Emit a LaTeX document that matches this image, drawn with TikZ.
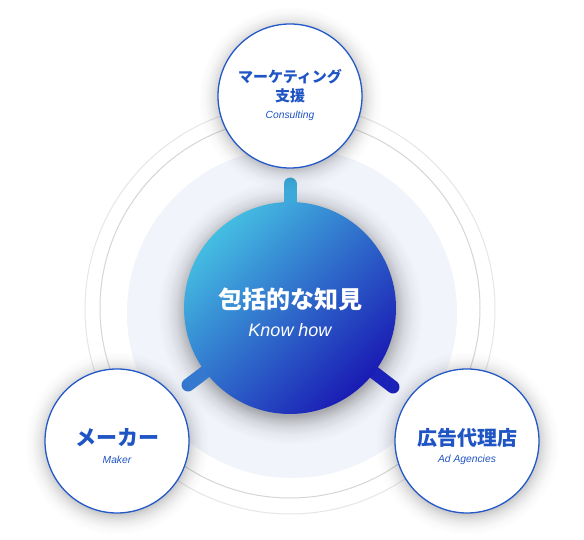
\documentclass[tikz,border=0pt]{standalone}
\usepackage{fontspec}
\setmainfont{Liberation Sans}
\newfontfamily\jp{Noto Sans CJK JP}
\usetikzlibrary{fadings}
\definecolor{ringout}{HTML}{E6E6E6}
\definecolor{ringin}{HTML}{D6D6D6}
\definecolor{bgdisc}{HTML}{F1F4FB}
\definecolor{mainA}{HTML}{44BDE2}
\definecolor{mainM}{HTML}{2F74CD}
\definecolor{mainB}{HTML}{1A1BB4}
\definecolor{spokeT}{HTML}{3CA9DA}
\definecolor{spokeL}{HTML}{3478CF}
\definecolor{spokeR}{HTML}{1A22B8}
\definecolor{txtblue}{HTML}{1F54C4}
\definecolor{edgeblue}{HTML}{2358C8}
\pgfdeclareradialshading{halomainsh}{\pgfpoint{0bp}{0bp}}{color(0bp)=(white); color(103bp)=(white); color(108bp)=(white!70!black); color(114bp)=(white!40!black); color(122bp)=(white!15!black); color(132bp)=(black); color(150bp)=(black)}
\pgfdeclarefading{halomain}{\pgfuseshading{halomainsh}}
\pgfdeclareradialshading{halopartsh}{\pgfpoint{0bp}{0bp}}{color(0bp)=(white); color(70bp)=(white); color(74bp)=(white!65!black); color(79bp)=(white!35!black); color(85bp)=(white!12!black); color(92bp)=(black); color(110bp)=(black)}
\pgfdeclarefading{halopart}{\pgfuseshading{halopartsh}}
\begin{document}
\begin{tikzpicture}[x=1pt,y=1pt,
  mainball/.style={circle,inner sep=0pt,minimum size=212pt,
    top color=mainA,middle color=mainM,bottom color=mainB,shading angle=45},
  partner/.style={circle,inner sep=0pt,minimum size=144pt,fill=white,
    draw=edgeblue,line width=1.3pt},
  spoke/.style={line width=13pt,line cap=round},
  jptitle/.style={text=txtblue,font=\jp\bfseries\fontsize{#1}{#1}\selectfont,inner sep=0pt},
  ensub/.style={text=txtblue,font=\itshape\fontsize{10.3}{12}\selectfont,inner sep=0pt}]
\useasboundingbox (0,0) rectangle (584,540);
\fill[white] (0,0) rectangle (584,540);
% rings and background disc
\draw[ringout,line width=1pt] (290,231) circle (205);
\draw[ringin,line width=1pt] (290,232) circle (190);
\fill[bgdisc] (292,227) circle (165);
% soft halo of the centre
\fill[black,opacity=0.3,path fading=halomain,fit fading=false,
  fading transform={xshift=290pt,yshift=228pt}] (290,228) circle (140);
\coordinate (hub) at (290,232);
\coordinate (tipT) at (290,356);
\coordinate (tipL) at (188,155);
\coordinate (tipR) at (393,153);
\draw[spoke,spokeT] (hub) -- (tipT);
\draw[spoke,spokeL] (hub) -- (tipL);
\draw[spoke,spokeR] (hub) -- (tipR);
\node[mainball] (main) at (hub) {};
\node[text=white,font=\jp\bfseries\fontsize{24}{24}\selectfont,inner sep=0pt] (mainjp) at (290,241) {包括的な知見};
\node[text=white,font=\itshape\fontsize{18}{20}\selectfont,inner sep=0pt] (mainen) at (290,210) {Know how};
% soft halos of the partners
\foreach \px/\py in {290/442,117/97,467/97}{
  \fill[black,opacity=0.22,path fading=halopart,fit fading=false,
    fading transform={xshift=\px pt,yshift=\py pt}] (\px,\py) circle (100);
}
% partners
\node[partner] (top) at (290,444) {};
\node[jptitle=15] (topjp1) at (290,463) {マーケティング};
\node[jptitle=15] (topjp2) at (290,444) {支援};
\node[ensub] (topen) at (290,424) {Consulting};
\node[partner] (left) at (117,99) {};
\node[jptitle=21] (leftjp) at (117,102) {メーカー};
\node[ensub] (leften) at (117,80) {Maker};
\node[partner] (right) at (467,99) {};
\node[jptitle=20] (rightjp) at (467,102) {広告代理店};
\node[ensub] (righten) at (467,80) {Ad Agencies};
\end{tikzpicture}
\end{document}
